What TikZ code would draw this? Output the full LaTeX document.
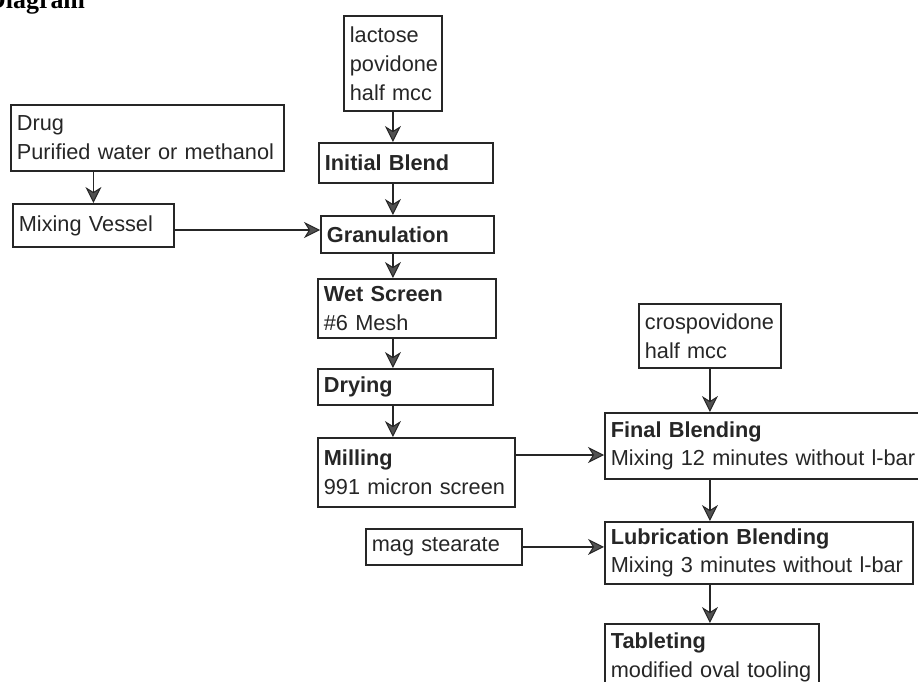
\documentclass[tikz,border=0pt]{standalone}
\usepackage{fontspec}
\setmainfont{Liberation Sans}
\newfontfamily\titlefont{Liberation Serif}
\usetikzlibrary{arrows.meta}
\definecolor{ink}{HTML}{262626}
\tikzset{
  box/.style={draw=ink, line width=1.8bp, rectangle, inner xsep=6bp, inner ysep=0bp,
    align=left, anchor=north west, font=\fontsize{21.8}{29}\selectfont, text=ink},
  arr/.style={draw=ink, line width=1.6bp,
    -{Stealth[length=16bp,width=16bp,inset=5bp,fill=ink!80,line width=1bp]}}
}
\newcommand{\bx}[6]{% name, x1, y1, x2, y2, text
  \node[box, minimum height=#5bp-#3bp, text width=#4bp-#2bp-12bp] (#1) at (#2,#3) {#6};}
\begin{document}
\begin{tikzpicture}[x=1bp,y=-1bp]
\useasboundingbox (0,0) rectangle (918,682);
\clip (0,0) rectangle (918,682);
\fill[white] (0,0) rectangle (918,682);
\node[anchor=base west, inner sep=0, font=\titlefont\bfseries\fontsize{26}{30}\selectfont] (title) at (-13,9) {Diagram};

\bx{drug}{10}{104}{283}{170}{Drug\\Purified water or methanol}
\bx{mixv}{12}{203}{173}{246}{Mixing Vessel}
\bx{lact}{343}{15}{441}{110}{lactose\\povidone\\half mcc}
\bx{init}{318}{142}{492}{182}{\bfseries Initial Blend}
\bx{gran}{320}{215}{493}{252}{\bfseries Granulation}
\bx{wet}{317}{278}{495}{337}{\bfseries Wet Screen\\\mdseries \#6 Mesh}
\bx{dry}{317}{368}{492}{404}{\bfseries Drying}
\bx{mill}{317}{437}{514}{506}{\bfseries Milling\\\mdseries 991 micron screen}
\bx{cros}{638}{303}{780}{367}{crospovidone\\half mcc}
\bx{final}{604}{412}{940}{478}{\bfseries Final Blending\\\mdseries Mixing 12 minutes without l-bar}
\bx{mag}{365}{528}{521}{564}{mag stearate}
\bx{lub}{604}{521}{912}{583}{\bfseries Lubrication Blending\\\mdseries Mixing 3 minutes without l-bar}
\bx{tab}{604}{623}{818}{690}{\bfseries Tableting\\\mdseries\mbox{modified oval tooling}}

\coordinate (ymv) at (0,230);
\coordinate (ymf) at (0,455);
\draw[arr] (mixv.north |- drug.south) -- (mixv.north);
\draw[arr] (mixv.east |- ymv) -- (gran.west |- ymv);
\draw[arr] (lact.south) -- (lact.south |- init.north);
\draw[arr] (lact.south |- init.south) -- (lact.south |- gran.north);
\draw[arr] (lact.south |- gran.south) -- (lact.south |- wet.north);
\draw[arr] (lact.south |- wet.south) -- (lact.south |- dry.north);
\draw[arr] (lact.south |- dry.south) -- (lact.south |- mill.north);
\draw[arr] (mill.east |- ymf) -- (final.west |- ymf);
\draw[arr] (cros.south) -- (cros.south |- final.north);
\draw[arr] (cros.south |- final.south) -- (cros.south |- lub.north);
\draw[arr] (mag.east) -- (mag.east -| lub.west);
\draw[arr] (cros.south |- lub.south) -- (cros.south |- tab.north);
\end{tikzpicture}
\end{document}
